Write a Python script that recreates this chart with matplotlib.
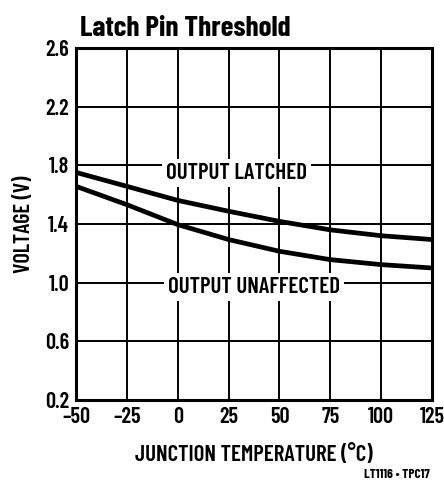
import matplotlib
matplotlib.use("Agg")
from matplotlib import pyplot as plt

temps = [-50, -25, 0, 25, 50, 75, 100, 125]
latched = [1.752, 1.657, 1.561, 1.487, 1.418, 1.36, 1.32, 1.294]
unaffected = [1.657, 1.532, 1.396, 1.294, 1.214, 1.157, 1.123, 1.10]

xticks = [-50, -25, 0, 25, 50, 75, 100, 125]
xticklabels = ["\u201350", "\u201325", "0", "25", "50", "75", "100", "125"]
yticks = [0.2, 0.6, 1.0, 1.4, 1.8, 2.2, 2.6]

fam = ["Barlow Condensed", "DejaVu Sans"]
plt.rcParams['font.family'] = fam

fig = plt.figure(figsize=(4.44, 4.84), dpi=100)
ax = fig.add_axes([0.171, 0.1736, 0.802, 0.7272])

ax.plot(temps, latched, color="black", lw=3.4, solid_capstyle="butt")
ax.plot(temps, unaffected, color="black", lw=3.4, solid_capstyle="butt")

ax.set_xlim(-50, 125)
ax.set_ylim(0.2, 2.6)
ax.set_xticks(xticks)
ax.set_xticklabels(xticklabels)
ax.set_yticks(yticks)
ax.set_yticklabels(["%.1f" % v for v in yticks])
ax.grid(True, color="black", lw=1.4)
ax.tick_params(length=0, labelsize=16, pad=5)
for lab in ax.get_xticklabels() + ax.get_yticklabels():
    lab.set_fontweight(600)
for s in ax.spines.values():
    s.set_linewidth(2.2)

ax.text(29, 1.75, "OUTPUT LATCHED", ha="center", va="center", fontsize=16.5,
        fontweight=600, bbox=dict(facecolor="white", edgecolor="none", pad=3))
ax.text(37.5, 0.97, "OUTPUT UNAFFECTED", ha="center", va="center", fontsize=16.5,
        fontweight=600, bbox=dict(facecolor="white", edgecolor="none", pad=3))

ax.set_ylabel("VOLTAGE (V)", fontsize=16, fontweight=600, labelpad=8)
ax.set_xlabel("JUNCTION TEMPERATURE (\u00b0C)", fontsize=16.5, fontweight=600, labelpad=12)

fig.text(0.18, 0.942, "Latch Pin Threshold", fontsize=21, fontweight=700, va="center")
fig.text(0.968, 0.02, "LT1116 \u2022 TPC17", fontsize=9.5, fontweight=700, ha="right", va="center")

fig.savefig("out.png", dpi=100)
